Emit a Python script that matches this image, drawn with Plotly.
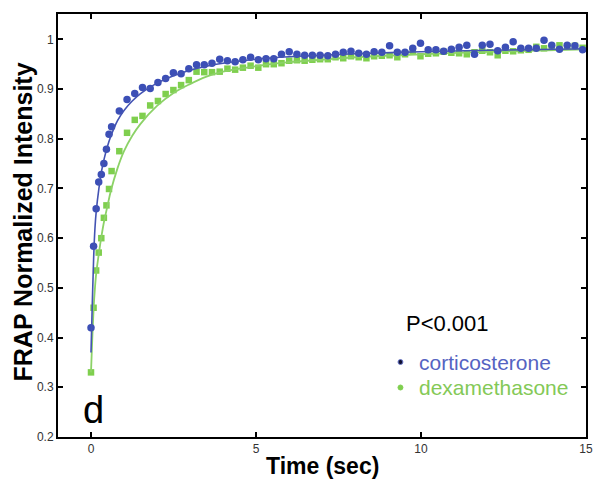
import plotly.graph_objects as go

# ---- data ----
time_s = [0, 0.078, 0.156, 0.234, 0.312, 0.39, 0.468, 0.546, 0.624,
          0.858, 1.092, 1.326, 1.56, 1.794, 2.028, 2.262, 2.496, 2.73, 2.964,
          3.198, 3.432, 3.666, 3.9, 4.134, 4.368, 4.602, 4.836,
          5.07, 5.304, 5.538, 5.772, 6.006, 6.24, 6.474, 6.708, 6.942,
          7.176, 7.41, 7.644, 7.878, 8.112, 8.346, 8.58, 8.814, 9.048, 9.282,
          9.516, 9.75, 9.984, 10.218, 10.452, 10.686,
          10.92, 11.154, 11.388, 11.622, 11.856, 12.09, 12.324, 12.558, 12.792,
          13.026, 13.26, 13.494, 13.728, 13.962, 14.196, 14.43, 14.664, 14.898]

corticosterone = [0.42, 0.584, 0.659, 0.713, 0.728, 0.75, 0.779, 0.809, 0.824,
                  0.856, 0.879, 0.891, 0.903, 0.901, 0.913, 0.921, 0.933, 0.931, 0.941,
                  0.949, 0.949, 0.952, 0.96, 0.957, 0.955, 0.959, 0.964,
                  0.959, 0.961, 0.961, 0.97, 0.975, 0.97, 0.968, 0.968, 0.968,
                  0.967, 0.97, 0.974, 0.976, 0.972, 0.97, 0.975, 0.974, 0.987, 0.974,
                  0.974, 0.982, 0.992, 0.979, 0.979, 0.976,
                  0.98, 0.984, 0.988, 0.97, 0.988, 0.99, 0.977, 0.984, 0.995,
                  0.982, 0.982, 0.982, 0.998, 0.988, 0.98, 0.988, 0.987, 0.979]

dexamethasone = [0.33, 0.46, 0.535, 0.571, 0.6, 0.641, 0.666, 0.699, 0.735,
                 0.775, 0.812, 0.838, 0.846, 0.867, 0.876, 0.89, 0.898, 0.908, 0.918,
                 0.935, 0.934, 0.934, 0.935, 0.941, 0.939, 0.943, 0.947,
                 0.943, 0.95, 0.95, 0.952, 0.957, 0.958, 0.957, 0.959, 0.96,
                 0.96, 0.964, 0.962, 0.966, 0.964, 0.962, 0.966, 0.967, 0.968, 0.964,
                 0.97, 0.975, 0.966, 0.971, 0.972, 0.975,
                 0.973, 0.972, 0.97, 0.974, 0.977, 0.974, 0.968, 0.977, 0.976,
                 0.978, 0.979, 0.985, 0.982, 0.984, 0.988, 0.986, 0.987, 0.983]

fit_time = [0, 0.04, 0.08, 0.12, 0.16, 0.24, 0.32, 0.4, 0.5, 0.6, 0.8, 1.0, 1.25,
            1.5, 2.0, 2.5, 3.0, 3.5, 4.0, 5.0, 6.0, 7.0, 8.0, 10.0, 12.0, 15.0]
fit_cort = [0.37, 0.47, 0.56, 0.62, 0.655, 0.70, 0.735, 0.76, 0.785, 0.805, 0.836,
            0.857, 0.876, 0.891, 0.912, 0.927, 0.938, 0.946, 0.952, 0.960, 0.965,
            0.968, 0.971, 0.975, 0.978, 0.981]
fit_dexa = [0.33, 0.40, 0.46, 0.50, 0.53, 0.57, 0.605, 0.635, 0.665, 0.695, 0.74,
            0.775, 0.806, 0.83, 0.866, 0.892, 0.91, 0.925, 0.935, 0.946, 0.954,
            0.959, 0.964, 0.970, 0.975, 0.980]

x_ticks = [0, 5, 10, 15]
y_ticks = [0.2, 0.3, 0.4, 0.5, 0.6, 0.7, 0.8, 0.9, 1.0]
y_tick_text = ["0.2", "0.3", "0.4", "0.5", "0.6", "0.7", "0.8", "0.9", "1"]

BLUE = "#3c4fb6"
GREEN = "#7fcf4e"
FONT = "Arial, Liberation Sans, Helvetica, sans-serif"

fig = go.Figure()
fig.add_trace(go.Scatter(x=time_s, y=dexamethasone, mode="markers",
                         marker=dict(symbol="square", size=6.5, color=GREEN, line=dict(width=0)),
                         showlegend=False))
fig.add_trace(go.Scatter(x=fit_time, y=fit_dexa, mode="lines", line_shape="spline",
                         line=dict(color="#8cd267", width=1.8), showlegend=False))
fig.add_trace(go.Scatter(x=time_s, y=corticosterone, mode="markers",
                         marker=dict(symbol="circle", size=7.5, color=BLUE, line=dict(width=0)),
                         showlegend=False))
fig.add_trace(go.Scatter(x=fit_time, y=fit_cort, mode="lines", line_shape="spline",
                         line=dict(color="#4353b3", width=1.6), showlegend=False))

axis_common = dict(showline=True, linecolor="black", linewidth=2, mirror="ticks",
                   ticks="inside", ticklen=5, tickwidth=1.5, tickcolor="black",
                   showgrid=False, zeroline=False,
                   tickfont=dict(family=FONT, size=12, color="#333333"))

fig.update_xaxes(range=[-1, 15], tickvals=x_ticks, **axis_common)
fig.update_yaxes(range=[0.2, 1.051], tickvals=y_ticks, ticktext=y_tick_text, **axis_common)

L, R, T, B = 58, 7, 14, 42
W, H = 600, 479
pw, ph = W - L - R, H - T - B

def px(xp):
    return (xp - L) / pw

def py(yp):
    return (H - B - yp) / ph

annotations = [
    dict(text="<b>FRAP Normalized Intensity</b>", x=px(23), y=py(222), textangle=-90,
         font=dict(family=FONT, size=25, color="black")),
    dict(text="<b>Time (sec)</b>", x=0.5, y=py(466),
         font=dict(family=FONT, size=23, color="black")),
    dict(text="P<0.001", x=px(409), y=py(323), xanchor="left",
         font=dict(family=FONT, size=22, color="black")),
    dict(text="corticosterone", x=px(422), y=py(362), xanchor="left",
         font=dict(family=FONT, size=21, color="#5563c2")),
    dict(text="dexamethasone", x=px(422), y=py(387), xanchor="left",
         font=dict(family=FONT, size=21, color="#84c957")),
    dict(text="d", x=px(94), y=py(410), font=dict(family=FONT, size=38, color="black")),
]
for a in annotations:
    a.setdefault("xanchor", "center")
    a.setdefault("yanchor", "middle")
    a.update(xref="paper", yref="paper", showarrow=False)

shapes = [
    dict(type="circle", xref="paper", yref="paper",
         x0=px(402.5), x1=px(407.5), y0=py(359.5), y1=py(364.5),
         fillcolor="#111133", line=dict(color="#6a78c8", width=1)),
    dict(type="circle", xref="paper", yref="paper",
         x0=px(402.5), x1=px(407.5), y0=py(385), y1=py(390),
         fillcolor="#7fcf4e", line=dict(color="#7fcf4e", width=1)),
]

fig.update_layout(width=W, height=H, margin=dict(l=L, r=R, t=T, b=B),
                  paper_bgcolor="white", plot_bgcolor="white",
                  annotations=annotations, shapes=shapes, showlegend=False)

fig.write_html("out.html", config={"displayModeBar": False},
               post_script="document.body.style.margin='0';document.body.style.overflow='hidden';")
